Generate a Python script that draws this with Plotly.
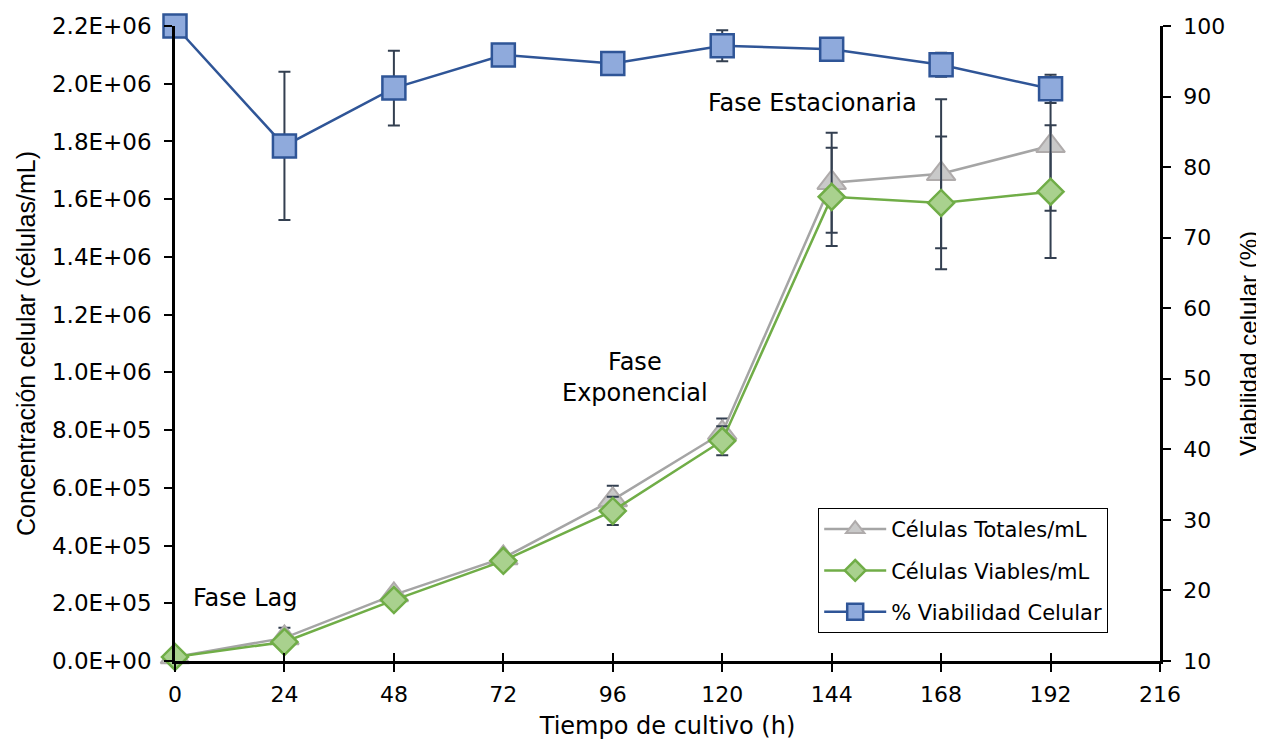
import plotly.graph_objects as go

# ---- data ----
tiempo_h = [0, 24, 48, 72, 96, 120, 144, 168, 192]
celulas_totales = [1.4e4, 8.0e4, 2.29e5, 3.57e5, 5.58e5, 7.9e5, 1.657e6, 1.688e6, 1.785e6]
err_totales = [0, 3.5e4, 1.2e4, 1.5e4, 4.9e4, 5.0e4, 1.73e5, 2.58e5, 2.25e5]
celulas_viables = [1.4e4, 6.6e4, 2.11e5, 3.47e5, 5.2e5, 7.63e5, 1.608e6, 1.587e6, 1.626e6]
err_viables = [0, 2.0e4, 1.0e4, 1.2e4, 4.9e4, 5.0e4, 1.70e5, 2.30e5, 2.30e5]
viabilidad_pct = [100.0, 83.0, 91.2, 95.9, 94.7, 97.2, 96.7, 94.5, 91.1]
err_viabilidad = [0, 10.5, 5.3, 0.8, 0.8, 2.2, 0.8, 1.7, 2.0]

x_ticks = [0, 24, 48, 72, 96, 120, 144, 168, 192, 216]
y_left_vals = [0, 2e5, 4e5, 6e5, 8e5, 1e6, 1.2e6, 1.4e6, 1.6e6, 1.8e6, 2.0e6, 2.2e6]
y_left_text = ["0.0E+00", "2.0E+05", "4.0E+05", "6.0E+05", "8.0E+05", "1.0E+06",
               "1.2E+06", "1.4E+06", "1.6E+06", "1.8E+06", "2.0E+06", "2.2E+06"]

WIDE = "DejaVu Sans, Verdana, sans-serif"
ARIAL = "Liberation Sans, Arial, sans-serif"
ERR_COLOR = "#333F50"

fig = go.Figure()

fig.add_trace(go.Scatter(
    x=tiempo_h, y=celulas_totales, name="Células Totales/mL",
    mode="lines+markers", cliponaxis=False, legendgroup="a",
    line=dict(color="#A5A5A5", width=2.5),
    marker=dict(symbol="triangle-up", size=25, color="#C9C9C9",
                line=dict(color="#AFABAB", width=2)),
    error_y=dict(type="data", array=err_totales, color=ERR_COLOR, thickness=2, width=6),
))
fig.add_trace(go.Scatter(
    x=tiempo_h, y=celulas_viables, name="Células Viables/mL",
    mode="lines+markers", cliponaxis=False, legendgroup="b",
    line=dict(color="#70AD47", width=2.5),
    marker=dict(symbol="diamond", size=20, color="#A9D18E",
                line=dict(color="#70AD47", width=2.5)),
    error_y=dict(type="data", array=err_viables, color=ERR_COLOR, thickness=2, width=6),
))
fig.add_trace(go.Scatter(
    x=tiempo_h, y=viabilidad_pct, name="% Viabilidad Celular",
    mode="lines+markers", yaxis="y2", cliponaxis=False, legendgroup="c",
    line=dict(color="#2F5597", width=2.5),
    marker=dict(symbol="square", size=23, color="#8FAADC",
                line=dict(color="#2F5597", width=2.5)),
    error_y=dict(type="data", array=err_viabilidad, color=ERR_COLOR, thickness=2, width=6),
))

axis_common = dict(showgrid=False, zeroline=False, showline=True, linecolor="black",
                   linewidth=2.5, ticks="outside", tickcolor="black", tickwidth=2,
                   ticklen=8, automargin=False)

fig.update_layout(
    width=1256, height=734,
    margin=dict(l=167, r=104, t=18, b=81),
    paper_bgcolor="white", plot_bgcolor="white",
    font=dict(family=WIDE, size=21, color="black"),
    xaxis=dict(range=[0, 216], tickvals=x_ticks, ticklabelstandoff=4,
               tickfont=dict(family=WIDE, size=22, color="black"),
               title=dict(text="Tiempo de cultivo (h)", font=dict(family=WIDE, size=24),
                          standoff=12), **axis_common),
    xaxis2=dict(range=[0, 216], tickvals=x_ticks, overlaying="x", showticklabels=False,
                showgrid=False, zeroline=False, showline=False, ticks="inside",
                tickcolor="black", tickwidth=2, ticklen=8),
    yaxis=dict(range=[0, 2.2e6], tickvals=y_left_vals, ticktext=y_left_text,
               ticklabelstandoff=8, tickfont=dict(family=WIDE, size=23, color="black"),
               title=dict(text="Concentración celular (células/mL)",
                          font=dict(family=ARIAL, size=25), standoff=10), **axis_common),
    yaxis2=dict(range=[10, 100], dtick=10, overlaying="y", side="right",
                ticklabelstandoff=8, tickfont=dict(family=WIDE, size=22, color="black"),
                title=dict(text="Viabilidad celular (%)", font=dict(family=ARIAL, size=24),
                           standoff=17),
                **axis_common),
    legend=dict(x=0.653, y=0.241, xanchor="left", yanchor="top",
                bordercolor="black", borderwidth=1, bgcolor="white",
                font=dict(family=WIDE, size=21), itemwidth=62,
                traceorder="grouped", tracegroupgap=11),
    showlegend=True,
)

# dummy trace so the inner-tick overlay axis renders
fig.add_trace(go.Scatter(x=[None], y=[None], xaxis="x2", showlegend=False, hoverinfo="skip"))

fig.add_annotation(x=15.4, y=2.18e5, text="Fase Lag", showarrow=False,
                   font=dict(size=24), xanchor="center", yanchor="middle")
fig.add_annotation(x=100.9, y=9.81e5, text="Fase<br>Exponencial", showarrow=False,
                   font=dict(size=24), xanchor="center", yanchor="middle")
fig.add_annotation(x=139.9, y=1.934e6, text="Fase Estacionaria", showarrow=False,
                   font=dict(size=24), xanchor="center", yanchor="middle")

fig.write_html("out.html")
